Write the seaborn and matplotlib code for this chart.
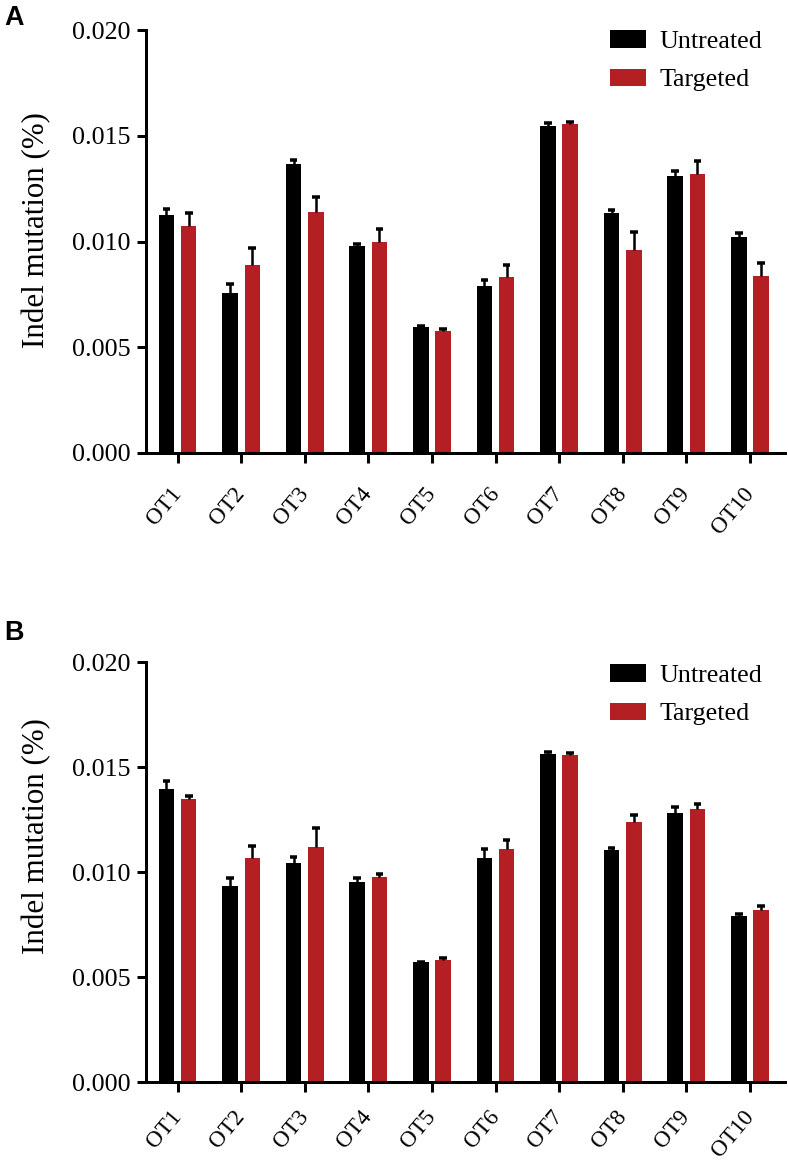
import numpy as np
import pandas as pd
import matplotlib
matplotlib.use('Agg')
import matplotlib.pyplot as plt
import seaborn as sns

# off-target sites
sites = ['OT1', 'OT2', 'OT3', 'OT4', 'OT5', 'OT6', 'OT7', 'OT8', 'OT9', 'OT10']
groups = ['Untreated', 'Targeted']

# panel A: means and upper error
a_untreated = [0.01125, 0.00757, 0.01366, 0.00980, 0.00596, 0.00790, 0.01546, 0.01135, 0.01310, 0.01020]
a_untreated_err = [0.00029, 0.00043, 0.00019, 0.00008, 0.00002, 0.00030, 0.00014, 0.00014, 0.00023, 0.00020]
a_targeted = [0.01073, 0.00889, 0.01140, 0.00998, 0.00577, 0.00832, 0.01556, 0.00960, 0.01320, 0.00837]
a_targeted_err = [0.00062, 0.00081, 0.00070, 0.00062, 0.00009, 0.00058, 0.00009, 0.00085, 0.00060, 0.00061]

# panel B
b_untreated = [0.01395, 0.00933, 0.01043, 0.00952, 0.00571, 0.01067, 0.01562, 0.01105, 0.01281, 0.00790]
b_untreated_err = [0.00038, 0.00038, 0.00028, 0.00019, 0.00002, 0.00043, 0.00009, 0.00009, 0.00029, 0.00010]
b_targeted = [0.01348, 0.01067, 0.01119, 0.00976, 0.00582, 0.01110, 0.01557, 0.01238, 0.01300, 0.00820]
b_targeted_err = [0.00014, 0.00057, 0.00091, 0.00014, 0.00008, 0.00042, 0.00010, 0.00033, 0.00024, 0.00020]

colors = ['#000000', '#B41F24']

sns.set_style('ticks')
plt.rcParams['font.family'] = ['Liberation Serif', 'DejaVu Serif']
for key in ['text.color', 'axes.labelcolor', 'xtick.color', 'ytick.color', 'axes.edgecolor']:
    plt.rcParams[key] = 'black'

fig = plt.figure(figsize=(788 / 72, 1164 / 72), dpi=72)
ax_a = fig.add_axes([0.185, 0.611, 0.811, 0.363])
ax_b = fig.add_axes([0.185, 0.0704, 0.811, 0.3608])


def draw_panel(ax, untreated, untreated_err, targeted, targeted_err, letter,
               leg_y, letter_y, ylab_y, xpad):
    df = pd.DataFrame({
        'site': sites * 2,
        'group': [groups[0]] * len(sites) + [groups[1]] * len(sites),
        'value': untreated + targeted,
    })
    sns.barplot(data=df, x='site', y='value', hue='group', order=sites,
                hue_order=groups, palette=colors, errorbar=None,
                width=0.7, gap=0.3, saturation=1, linewidth=0, ax=ax)

    # upper-only error bars at bar centres
    errs = untreated_err + targeted_err
    bars = ax.patches[:len(errs)]
    xs = np.array([b.get_x() + b.get_width() / 2 for b in bars])
    tops = np.array([b.get_height() for b in bars])
    errs = np.array(errs)
    ax.vlines(xs, tops, tops + errs, color='black', lw=2.5, zorder=3)
    ax.hlines(tops + errs, xs - 0.06, xs + 0.06, color='black', lw=3.5, zorder=3)

    ax.set_ylim(0, 0.020)
    ax.set_xlim(-0.5, 9.55)
    ax.set_yticks([0.000, 0.005, 0.010, 0.015, 0.020])
    ax.set_yticklabels(['0.000', '0.005', '0.010', '0.015', '0.020'], fontsize=26)
    ax.set_xticks(range(len(sites)))
    ax.set_xticklabels(sites, fontsize=23, rotation=50, ha='right',
                       rotation_mode='anchor', va='center')
    ax.tick_params(axis='y', length=9, width=3, pad=6)
    ax.tick_params(axis='x', length=10, width=3, pad=xpad)
    ax.set_xlabel('')
    ax.set_ylabel('Indel mutation (%)', fontsize=31)
    ax.yaxis.set_label_coords(-0.148, ylab_y)
    for s in ['left', 'bottom']:
        ax.spines[s].set_linewidth(3)
    sns.despine(ax=ax)

    ax.legend(loc='upper left', bbox_to_anchor=(0.726, leg_y), frameon=False,
              fontsize=26, handlelength=1.4, handleheight=0.65,
              handletextpad=0.5, labelspacing=0.6, borderpad=0, borderaxespad=0)
    ax.text(-0.222, letter_y, letter, transform=ax.transAxes, fontsize=27,
            fontweight='bold', family='Liberation Sans', va='top', ha='left')


draw_panel(ax_a, a_untreated, a_untreated_err, a_targeted, a_targeted_err,
           'A', 1.0, 1.06, 0.527, 27)
draw_panel(ax_b, b_untreated, b_untreated_err, b_targeted, b_targeted_err,
           'B', 0.995, 1.1, 0.586, 21)

fig.savefig('out.png', dpi=72)
